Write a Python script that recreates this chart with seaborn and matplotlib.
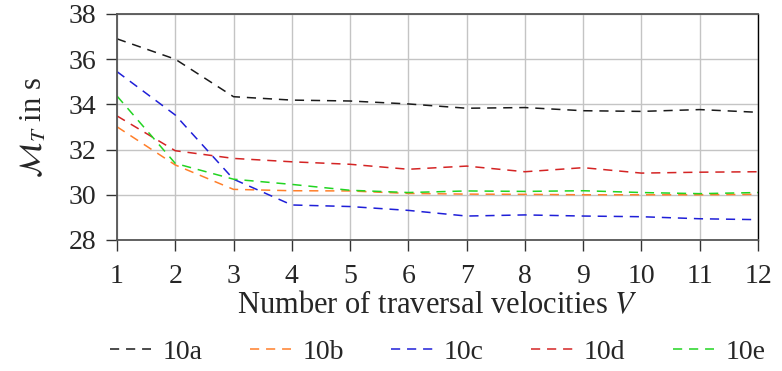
import matplotlib
matplotlib.use("Agg")
import matplotlib.pyplot as plt
import seaborn as sns
import pandas as pd

velocities = [1, 2, 3, 4, 5, 6, 7, 8, 9, 10, 11, 12]
s10a = [36.9, 36.0, 34.34, 34.19, 34.15, 34.02, 33.83, 33.86, 33.72, 33.69, 33.77, 33.65]
s10b = [33.01, 31.32, 30.24, 30.18, 30.17, 30.06, 30.03, 30.02, 30.0, 30.0, 30.0, 30.02]
s10c = [35.45, 33.53, 30.69, 29.55, 29.48, 29.31, 29.06, 29.11, 29.06, 29.03, 28.94, 28.9]
s10d = [33.49, 31.95, 31.61, 31.46, 31.35, 31.13, 31.27, 31.02, 31.2, 30.96, 31.0, 31.02]
s10e = [34.37, 31.39, 30.69, 30.46, 30.2, 30.1, 30.17, 30.15, 30.18, 30.1, 30.05, 30.1]
series_names = ["10a", "10b", "10c", "10d", "10e"]
colors = ["#1a1a1a", "#ff7f2a", "#1f1fd8", "#d42424", "#22d422"]

rows = []
for name, vals in zip(series_names, [s10a, s10b, s10c, s10d, s10e]):
    for v, m in zip(velocities, vals):
        rows.append({"V": v, "M": m, "series": name})
df = pd.DataFrame(rows)

sns.set_theme(style="white")
plt.rcParams["font.family"] = ["Liberation Serif", "DejaVu Serif"]
plt.rcParams["mathtext.fontset"] = "stix"

fig = plt.figure(figsize=(7.82, 3.71), dpi=100)
ax = fig.add_axes([0.1496, 0.3531, 0.8197, 0.6092])

palette = dict(zip(series_names, colors))
dashes = {n: (6, 4.5) for n in series_names}
sns.lineplot(data=df, x="V", y="M", hue="series", style="series",
             palette=palette, dashes=dashes, linewidth=1.1, ax=ax, legend=True)

ax.set_xlim(1, 12)
ax.set_ylim(28, 38)
ax.set_xticks(velocities)
ax.set_yticks([28, 30, 32, 34, 36, 38])
ax.grid(True, color="#c4c4c4", linewidth=1.0)
ax.set_axisbelow(True)
for side in ["top", "bottom", "left"]:
    ax.spines[side].set_color("#555555")
    ax.spines[side].set_linewidth(1.3)
ax.spines["right"].set_color("#000000")
ax.spines["right"].set_linewidth(1.0)
ax.tick_params(axis="both", direction="out", length=8, width=1.0,
               color="#333333", labelsize=20, bottom=True, left=True)
ax.tick_params(axis="x", pad=9)
ax.tick_params(axis="y", pad=7)
ax.set_xlabel("Number of traversal velocities $V$", fontsize=22, labelpad=2)
ax.set_ylabel(r"$\mathcal{M}_T$ in s", fontsize=22, labelpad=14)

handles, labels = ax.get_legend_handles_labels()
ax.get_legend().remove()
fig.legend(handles, labels, loc="center", bbox_to_anchor=(0.5595, 0.05),
           ncol=5, frameon=False, fontsize=20, handlelength=1.5,
           columnspacing=1.7, handletextpad=0.4)

fig.savefig("out.png", dpi=100)
